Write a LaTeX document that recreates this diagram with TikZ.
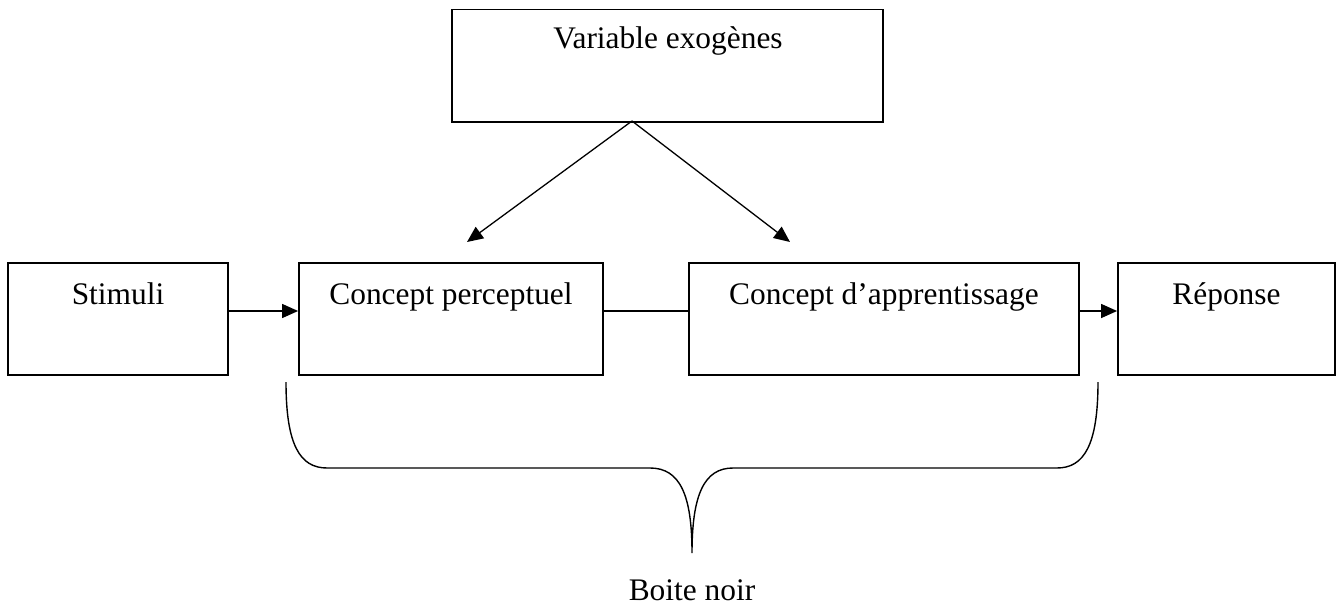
\documentclass[tikz,border=0pt]{standalone}
\usepackage{fontspec}
\setmainfont{Liberation Serif}
\usetikzlibrary{arrows.meta}
\begin{document}
\begin{tikzpicture}[x=1pt,y=-1pt,
  box/.style={draw=black, line width=1.8pt, rectangle, inner sep=0pt},
  lbl/.style={anchor=base, inner sep=0pt, font=\fontsize{31.4}{36}\selectfont},
  conn/.style={line width=1.3pt},
  arr/.style={conn, -{Triangle[length=16pt,width=14pt]}},
  brace/.style={line width=1.4pt}]
\useasboundingbox (0,0) rectangle (1338,607);
\node[box, minimum width=431pt, minimum height=112.5pt] (var) at (667.5,65.75) {};
\node[box, minimum width=220pt, minimum height=112pt] (stim) at (118,319) {};
\node[box, minimum width=304pt, minimum height=112pt] (cp) at (451,319) {};
\node[box, minimum width=390pt, minimum height=112pt] (ca) at (884,319) {};
\node[box, minimum width=217pt, minimum height=112pt] (rep) at (1226.5,319) {};
\node[lbl] (tvar) at (668,49) {Variable exogènes};
\node[lbl] (tstim) at (118,304) {Stimuli};
\node[lbl] (tcp) at (451,304) {Concept perceptuel};
\node[lbl] (tca) at (884,304) {Concept d’apprentissage};
\node[lbl] (trep) at (1226.5,304) {Réponse};
\node[lbl] (tbn) at (692,600) {Boite noir};
\coordinate (apex) at (632,121);
\coordinate (tipl) at (467,242);
\coordinate (tipr) at (790,242);
\draw[arr] (apex) -- (tipl);
\draw[arr] (apex) -- (tipr);
\draw[arr] ([yshift=8pt]stim.east) -- ([yshift=8pt]cp.west);
\draw[conn] ([yshift=8pt]cp.east) -- ([yshift=8pt]ca.west);
\draw[arr] ([yshift=8pt]ca.east) -- ([yshift=8pt]rep.west);
\draw[brace] (286,382) .. controls (286,445) and (300,468) .. (327,468)
  -- (650,468) .. controls (680,468) and (692,495) .. (692,553)
  .. controls (692,495) and (704,468) .. (733,468)
  -- (1057,468) .. controls (1084,468) and (1098,445) .. (1098,382);
\end{tikzpicture}
\end{document}
